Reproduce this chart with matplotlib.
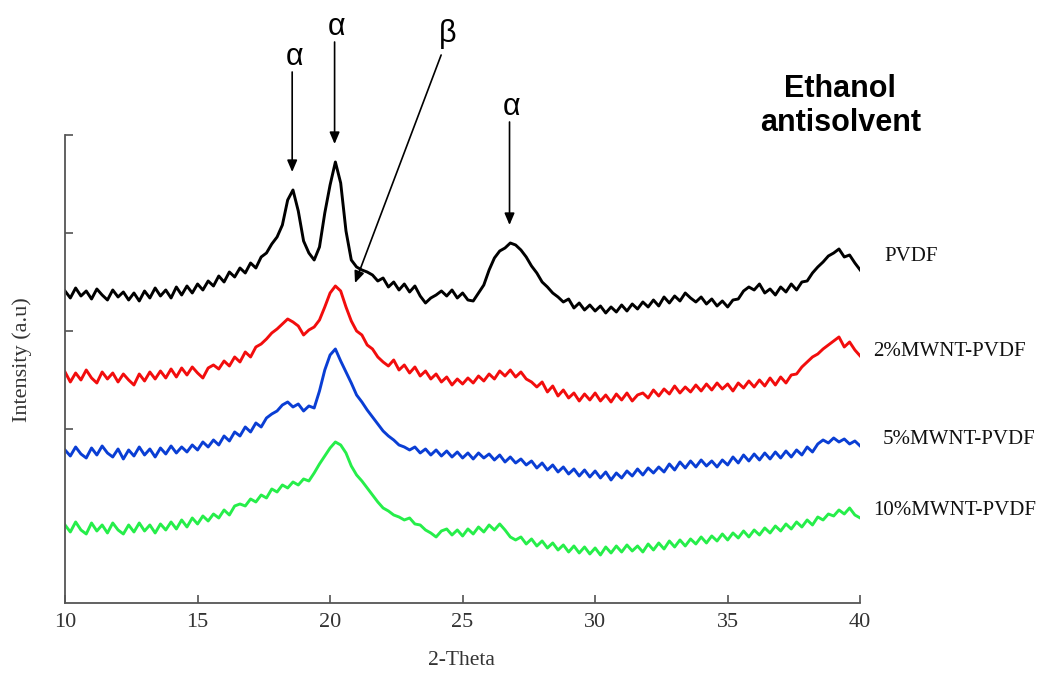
import numpy as np
import matplotlib
matplotlib.use("Agg")
import matplotlib.pyplot as plt

# 2-theta grid, 0.2 deg steps from 10 to 40
two_theta = np.round(np.arange(10.0, 40.0001, 0.2), 1)

# XRD intensity (a.u., already offset for stacking)
pvdf = [312, 305, 315, 307, 312, 304, 314, 308, 303, 313,
        306, 311, 303, 310, 302, 312, 305, 315, 307, 313,
        305, 316, 308, 317, 310, 319, 313, 322, 317, 327,
        321, 331, 326, 335, 330, 340, 335, 346, 350, 359,
        366, 378, 403, 413, 392, 362, 350, 343, 356, 390,
        418, 441, 420, 372, 343, 336, 333, 331, 328, 322,
        325, 316, 321, 313, 319, 311, 317, 307, 300, 305,
        308, 312, 307, 313, 305, 310, 303, 302, 310, 318,
        333, 345, 352, 355, 360, 358, 353, 346, 337, 330,
        321, 316, 310, 306, 301, 304, 295, 300, 293, 298,
        292, 297, 290, 296, 291, 298, 292, 299, 294, 301,
        296, 303, 297, 306, 300, 307, 302, 310, 305, 301,
        306, 299, 304, 297, 302, 296, 303, 304, 312, 316,
        313, 319, 310, 314, 308, 316, 311, 319, 313, 321,
        322, 330, 336, 341, 347, 350, 354, 346, 348, 340,
        333]

mwnt2 = [231, 221, 230, 223, 233, 225, 220, 231, 224, 230,
         221, 229, 223, 218, 229, 222, 231, 224, 232, 225,
         234, 226, 235, 228, 236, 230, 225, 235, 238, 234,
         242, 237, 246, 241, 251, 246, 256, 259, 264, 270,
         274, 279, 284, 281, 277, 268, 273, 276, 283, 296,
         310, 317, 312, 296, 282, 272, 268, 258, 254, 246,
         241, 237, 243, 233, 238, 230, 236, 227, 232, 224,
         229, 221, 226, 218, 224, 219, 225, 220, 227, 222,
         229, 224, 232, 227, 233, 226, 231, 224, 221, 216,
         221, 211, 217, 207, 213, 205, 210, 202, 209, 203,
         210, 202, 208, 201, 209, 203, 210, 202, 208, 210,
         205, 213, 207, 214, 209, 217, 210, 216, 211, 218,
         212, 219, 213, 220, 214, 219, 212, 220, 215, 222,
         216, 223, 217, 225, 218, 226, 220, 228, 229, 236,
         241, 246, 249, 254, 258, 262, 266, 256, 261, 253,
         247]

mwnt5 = [153, 147, 156, 149, 145, 155, 148, 157, 150, 146,
         154, 144, 153, 147, 156, 148, 154, 146, 155, 149,
         157, 150, 156, 151, 158, 153, 161, 156, 163, 158,
         167, 162, 171, 167, 176, 171, 180, 176, 185, 189,
         192, 198, 201, 196, 199, 192, 197, 195, 212, 233,
         248, 254, 242, 231, 220, 208, 201, 193, 186, 179,
         172, 167, 163, 158, 156, 153, 156, 150, 154, 148,
         153, 147, 152, 146, 151, 145, 150, 144, 150, 145,
         149, 143, 148, 141, 146, 140, 144, 138, 142, 135,
         140, 133, 138, 131, 136, 129, 134, 127, 133, 126,
         132, 125, 131, 123, 130, 125, 132, 127, 134, 128,
         135, 130, 136, 131, 139, 133, 141, 135, 142, 136,
         143, 137, 142, 136, 143, 138, 146, 140, 148, 142,
         149, 143, 150, 144, 151, 145, 152, 146, 153, 148,
         156, 151, 159, 163, 160, 165, 161, 164, 159, 162,
         157]

mwnt10 = [78, 71, 81, 73, 69, 80, 72, 78, 70, 80,
          73, 69, 78, 71, 80, 72, 78, 70, 79, 73,
          81, 74, 83, 76, 85, 79, 87, 82, 89, 85,
          93, 88, 97, 99, 97, 104, 101, 108, 105, 114,
          111, 118, 115, 121, 118, 124, 122, 130, 139, 147,
          155, 161, 158, 150, 137, 128, 122, 115, 108, 101,
          95, 92, 88, 86, 83, 85, 79, 78, 73, 70,
          66, 72, 74, 68, 73, 67, 74, 69, 76, 71,
          78, 73, 79, 73, 66, 63, 66, 59, 64, 57,
          62, 55, 60, 53, 58, 51, 57, 50, 56, 49,
          55, 48, 56, 50, 57, 51, 58, 52, 57, 51,
          59, 53, 60, 54, 62, 56, 63, 57, 64, 59,
          66, 60, 67, 62, 69, 63, 70, 65, 72, 66,
          73, 68, 75, 70, 77, 72, 79, 74, 81, 76,
          83, 78, 86, 83, 89, 87, 93, 89, 95, 88,
          85]

series = [pvdf, mwnt2, mwnt5, mwnt10]
names = ["PVDF", "2%MWNT-PVDF", "5%MWNT-PVDF", "10%MWNT-PVDF"]
colors = ["#000000", "#f20d0d", "#0a3ed4", "#26ee4a"]
label_x = [40.9, 40.5, 40.85, 40.5]
label_y = [346, 251, 163, 92]

# peak marks on the PVDF pattern
alpha_peaks = [18.6, 20.2, 26.8]
beta_peak = 20.9

fig = plt.figure(figsize=(10.49, 6.75), dpi=100)
ax = fig.add_axes([0.062, 0.1067, 0.758, 0.6933])

for y, c in zip(series, colors):
    ax.plot(two_theta, y, color=c, lw=2.1)

ax.set_xlim(10, 40)
ax.set_ylim(0, 468)
ax.set_xticks([10, 15, 20, 25, 30, 35, 40])
ax.set_yticks([174, 272, 370, 468])
ax.set_yticklabels([])
ax.tick_params(direction="in", length=6, width=1.1, color="#444444",
               labelsize=16, labelcolor="#333333", pad=7)
for lab in ax.get_xticklabels():
    lab.set_family("Liberation Serif")
for s in ["top", "right"]:
    ax.spines[s].set_visible(False)
for s in ["left", "bottom"]:
    ax.spines[s].set_color("#555555")
    ax.spines[s].set_linewidth(1.3)

# series names to the right of the curves
for name, c, lx, ly in zip(names, colors, label_x, label_y):
    ax.text(lx, ly, name, fontsize=15, family="Liberation Serif",
            color="#111111", ha="left", va="center", clip_on=False)

# alpha arrows above the peaks
arrow_len = [100, 102, 103]
for p, L in zip(alpha_peaks, arrow_len):
    top = pvdf[int(round((p - 10) / 0.2))]
    tip = top + 18
    ax.annotate("", xy=(p - 0.03, tip), xytext=(p - 0.03, tip + L),
                annotation_clip=False,
                arrowprops=dict(arrowstyle="-|>,head_length=0.7,head_width=0.3",
                                color="black", lw=1.2, shrinkA=0, shrinkB=0))
    ax.text(p + 0.05, tip + L + 15, "α", fontsize=22, family="Liberation Sans",
            ha="center", va="center", clip_on=False)

# beta arrow pointing at the shoulder
b_tip = pvdf[int(round((beta_peak - 10) / 0.2))] - 23
ax.annotate("", xy=(beta_peak + 0.04, b_tip), xytext=(24.19, 548),
            annotation_clip=False,
            arrowprops=dict(arrowstyle="-|>,head_length=0.7,head_width=0.3",
                            color="black", lw=1.2, shrinkA=0, shrinkB=0))
ax.text(24.42, 569, "β", fontsize=22, family="Liberation Sans",
        ha="center", va="center", clip_on=False)

fig.text(0.801, 0.843, "Ethanol\nantisolvent", fontsize=22, fontweight="bold",
         family="Liberation Sans", ha="center", va="center", linespacing=1.15)

fig.text(0.021, 0.467, "Intensity (a.u)", rotation=90, fontsize=16,
         family="Liberation Serif", color="#333333", ha="center", va="center")
fig.text(0.44, 0.022, "2-Theta", fontsize=15.5, family="Liberation Serif",
         color="#333333", ha="center", va="center")

fig.savefig("out.png", dpi=100)
